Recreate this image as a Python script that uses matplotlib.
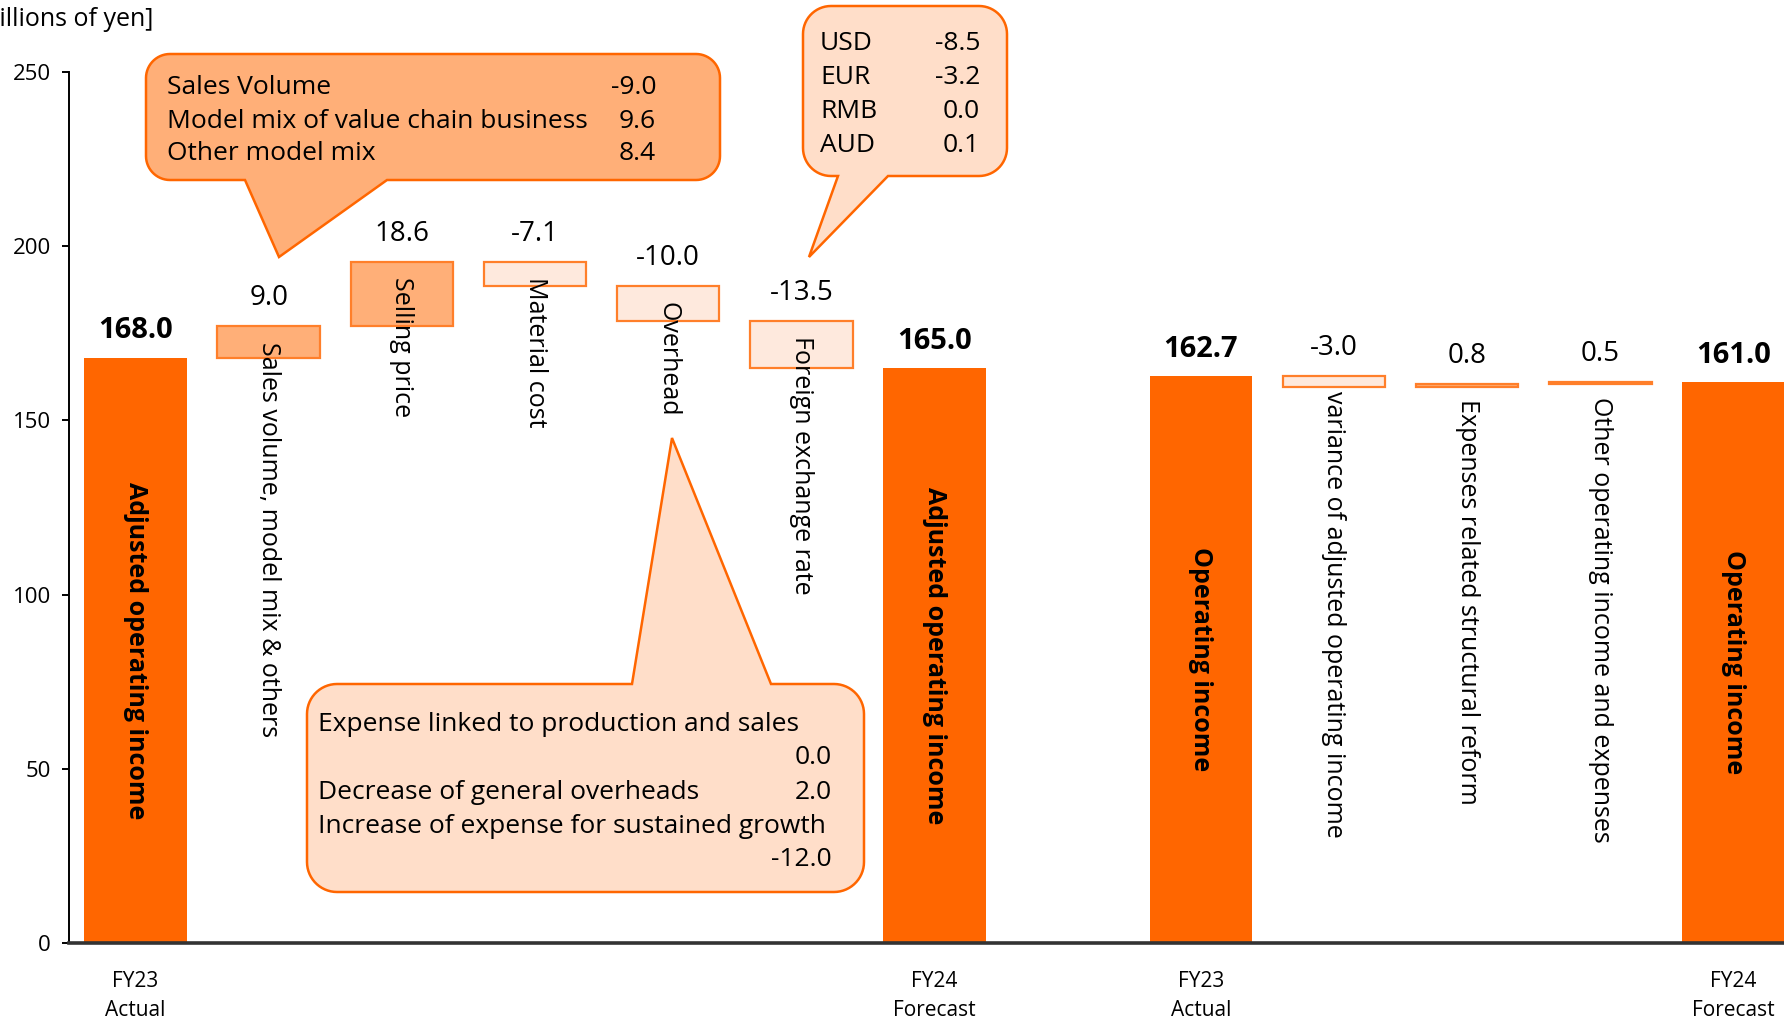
import matplotlib
matplotlib.use("Agg")
import matplotlib.pyplot as plt
from matplotlib.patches import Polygon
import numpy as np

plt.rcParams['font.family'] = ['Open Sans', 'DejaVu Sans']

# Waterfall data (billions of yen)
categories = ['Adjusted operating income', 'Sales volume, model mix & others',
              'Selling price', 'Material cost', 'Overhead', 'Foreign exchange rate',
              'Adjusted operating income',
              'Operating income', 'variance of adjusted operating income',
              'Expenses related structural reform',
              'Other operating income and expenses', 'Operating income']
values = [168.0, 9.0, 18.6, -7.1, -10.0, -13.5, 165.0,
          162.7, -3.0, 0.8, 0.5, 161.0]
is_total = [True, False, False, False, False, False, True,
            True, False, False, False, True]
period_ticks = ['FY23\nActual', 'FY24\nForecast', 'FY23\nActual', 'FY24\nForecast']

# breakdown boxes
volume_items = ['Sales Volume', 'Model mix of value chain business', 'Other model mix']
volume_vals = ['-9.0', '9.6', '8.4']
fx_items = ['USD', 'EUR', 'RMB', 'AUD']
fx_vals = ['-8.5', '-3.2', '0.0', '0.1']
overhead_items = ['Expense linked to production and sales', '',
                  'Decrease of general overheads',
                  'Increase of expense for sustained growth', '']
overhead_vals = ['', '0.0', '2.0', '', '-12.0']

ORANGE = '#FF6600'
EDGE = '#FF7F2A'
UP = '#FFAF78'
DOWN = '#FEE9DD'
BUBBLE_LIGHT = '#FFDEC9'

W, H = 1784, 1021
fig = plt.figure(figsize=(W / 100, H / 100), dpi=100)
ax = fig.add_axes([69 / W, 0.0764, 1 - 69 / W, 0.8531])

# slots 0-6 for the adjusted income bridge, 8-12 for operating income
pos = np.r_[0:7, 8:13]
bar_w = 0.77

running = 0.0
for x, v, tot, cat in zip(pos, values, is_total, categories):
    if tot:
        ax.bar(x, v, bar_w, color=ORANGE, zorder=2)
        top = v
        running = v
        ax.text(x, v / 2, cat, rotation=-90, ha='center', va='center',
                fontsize=18, fontweight='bold', zorder=3)
        ax.annotate(f'{v:.1f}', (x, top), xytext=(0, 14), textcoords='offset points',
                    ha='center', va='baseline', fontsize=21, fontweight='bold')
    else:
        lo = min(running, running + v)
        ax.bar(x, abs(v), bar_w, bottom=lo, color=UP if v > 0 else DOWN,
               edgecolor=EDGE, linewidth=1.6, zorder=2)
        running += v
        top = lo + abs(v)
        ax.annotate(f'{v:.1f}', (x, top), xytext=(0, 15), textcoords='offset points',
                    ha='center', va='baseline', fontsize=20)
        ax.annotate(cat, (x, top), xytext=(0, -11), textcoords='offset points',
                    rotation=-90, ha='center', va='top', fontsize=18)

ax.set_xlim(-0.5, 12.38)
ax.set_ylim(0, 250)
ax.set_yticks(np.arange(0, 251, 50))
ax.set_xticks([0, 6, 8, 12])
ax.set_xticklabels(period_ticks, fontsize=15, linespacing=1.5)
ax.tick_params(axis='x', length=0, pad=20)
ax.tick_params(axis='y', direction='out', length=5, width=1.4, labelsize=16, pad=8)
for s in ['top', 'right']:
    ax.spines[s].set_visible(False)
ax.spines['left'].set_linewidth(1.4)
ax.spines['bottom'].set_linewidth(2.6)
ax.spines['bottom'].set_color('#333333')
ax.spines['bottom'].set_zorder(4)

fig.text(153 / W, 1 - 20 / H, '[Billions of yen]', ha='right', va='center', fontsize=18)


def fig_xy(px, py):
    return px / W, 1 - py / H


def bubble(x0, y0, x1, y1, r, side, bx0, bx1, tip, fc):
    """Rounded box with a pointer, given in pixel coords from the top-left."""
    def arc(cx, cy, a0, a1):
        t = np.radians(np.linspace(a0, a1, 16))
        return list(zip(cx + r * np.sin(t), cy - r * np.cos(t)))
    pts = [(x0 + r, y0)]
    if side == 'top':
        pts += [(bx0, y0), tip, (bx1, y0)]
    pts += arc(x1 - r, y0 + r, 0, 90)
    pts += arc(x1 - r, y1 - r, 90, 180)
    if side == 'bottom':
        pts += [(bx1, y1), tip, (bx0, y1)]
    pts += arc(x0 + r, y1 - r, 180, 270)
    pts += arc(x0 + r, y0 + r, 270, 360)
    verts = [fig_xy(px, py) for px, py in pts]
    fig.add_artist(Polygon(verts, closed=True, transform=fig.transFigure,
                           facecolor=fc, edgecolor=ORANGE, linewidth=1.8, zorder=5))


def bubble_text(left, right, rows, names, nums):
    for y, name, num in zip(rows, names, nums):
        fig.text(*fig_xy(left, y), name, ha='left', va='center', fontsize=19, zorder=6)
        fig.text(*fig_xy(right, y), num, ha='right', va='center', fontsize=19, zorder=6)


bubble(146, 54, 720, 180, 24, 'bottom', 245, 387, (279, 257), UP)
bubble_text(167, 656, [87, 121, 154], volume_items, volume_vals)

bubble(803, 6, 1007, 176, 28, 'bottom', 838, 888, (809, 257), BUBBLE_LIGHT)
bubble_text(820, 980, [44, 78, 111, 145], fx_items, fx_vals)

bubble(307, 684, 864, 892, 30, 'top', 632, 771, (672, 438), BUBBLE_LIGHT)
bubble_text(318, 832, [724, 758, 792, 826, 859], overhead_items, overhead_vals)

fig.savefig('out.png', dpi=100)
